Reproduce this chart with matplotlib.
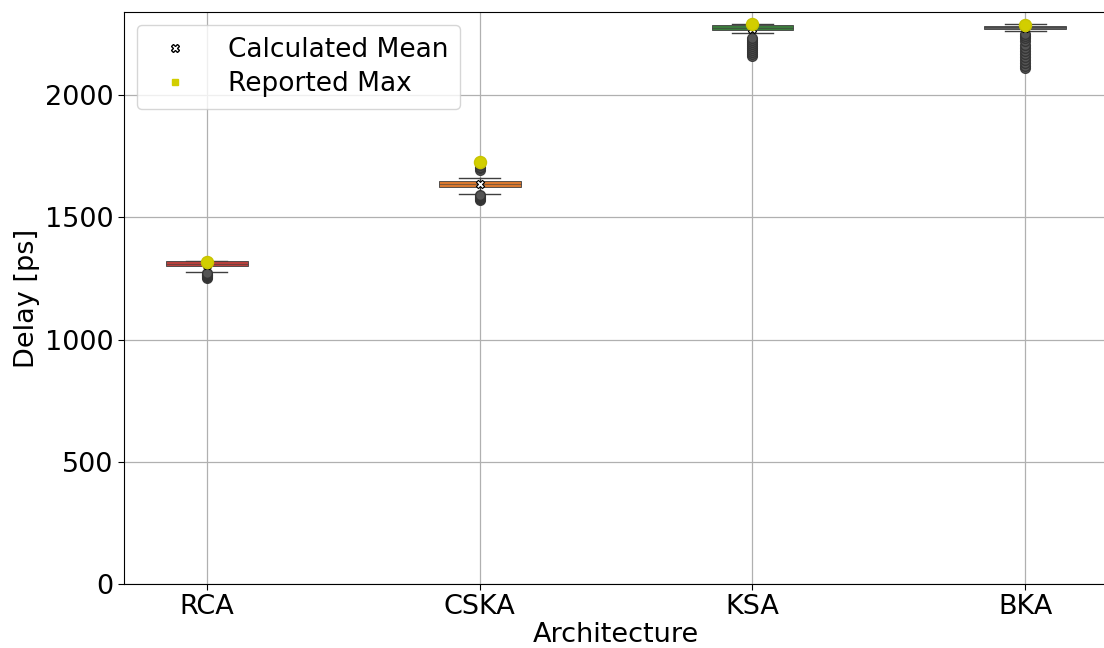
import matplotlib
matplotlib.use("Agg")
import matplotlib.pyplot as plt
from matplotlib.lines import Line2D

# delay statistics per adder architecture (ps)
architectures = ["RCA", "CSKA", "KSA", "BKA"]
box_colors = ["#b8403c", "#d9782f", "#3c7a3c", "#5b5b5b"]
q1 = [1299, 1624, 2265, 2269]
median = [1310, 1636, 2276, 2277]
q3 = [1320, 1647, 2285, 2284]
whisker_low = [1277, 1596, 2252, 2262]
whisker_high = [1320, 1662, 2290, 2290]
fliers = [
    [1252, 1256, 1260, 1263, 1266, 1269, 1272],
    [1572, 1576, 1580, 1584, 1588, 1592, 1694, 1700, 1706, 1712],
    [2160, 2168, 2176, 2184, 2192, 2200, 2208, 2216, 2224, 2232],
    [2110, 2120, 2132, 2144, 2156, 2168, 2180, 2192, 2204, 2222, 2232, 2242, 2250],
]
calculated_mean = [1306, 1638, 2272, 2275]
reported_max = [1318, 1726, 2290, 2285]

fig = plt.figure(figsize=(11.04, 6.48), dpi=100)
ax = fig.add_axes([0.112, 0.0988, 0.892, 0.8827])

stats = []
for i, name in enumerate(architectures):
    stats.append({
        "label": name,
        "q1": q1[i], "med": median[i], "q3": q3[i],
        "whislo": whisker_low[i], "whishi": whisker_high[i],
        "fliers": fliers[i],
    })

line_col = "#3f3f3f"
bp = ax.bxp(stats, positions=range(len(architectures)), widths=0.3,
            patch_artist=True, showfliers=True,
            boxprops=dict(edgecolor=line_col, linewidth=0.6),
            medianprops=dict(color=line_col, linewidth=0.4),
            whiskerprops=dict(color=line_col, linewidth=1.0),
            capprops=dict(color=line_col, linewidth=1.0),
            flierprops=dict(marker="o", markersize=7, markerfacecolor="#555555",
                            markeredgecolor="#333333", alpha=0.9))
for patch, c in zip(bp["boxes"], box_colors):
    patch.set_facecolor(c)
    patch.set_zorder(3)
for art in bp["medians"]:
    art.set_zorder(3.1)
for key in ["whiskers", "caps", "fliers"]:
    for art in bp[key]:
        art.set_zorder(2.5)

x = list(range(len(architectures)))
ax.scatter(x, calculated_mean, marker="X", s=35, color="white",
           edgecolors="black", linewidths=0.8, zorder=5)
ax.scatter(x, reported_max, marker="o", s=75, color="#d2ce00",
           edgecolors="#c8c400", zorder=6)

ax.set_xlim(-0.305, 3.305)
ax.set_ylim(0, 2340)
ax.set_yticks([0, 500, 1000, 1500, 2000])
ax.set_xticks(x)
ax.set_xticklabels(architectures)
ax.tick_params(labelsize=19.5, length=4)
ax.grid(True, color="#b0b0b0", linewidth=0.9)
ax.set_axisbelow(True)
ax.set_xlabel("Architecture", fontsize=19.5, labelpad=1)
ax.set_ylabel("Delay [ps]", fontsize=19.5, labelpad=3)

handles = [
    Line2D([], [], linestyle="none", marker="X", markersize=6,
           markerfacecolor="white", markeredgecolor="black"),
    Line2D([], [], linestyle="none", marker="s", markersize=5,
           markerfacecolor="#d2ce00", markeredgecolor="#d2ce00"),
]
ax.legend(handles, ["Calculated Mean", "Reported Max"], loc="upper left",
          fontsize=19, handletextpad=1.0, borderpad=0.45, labelspacing=0.3)

fig.savefig("out.png", dpi=100)
